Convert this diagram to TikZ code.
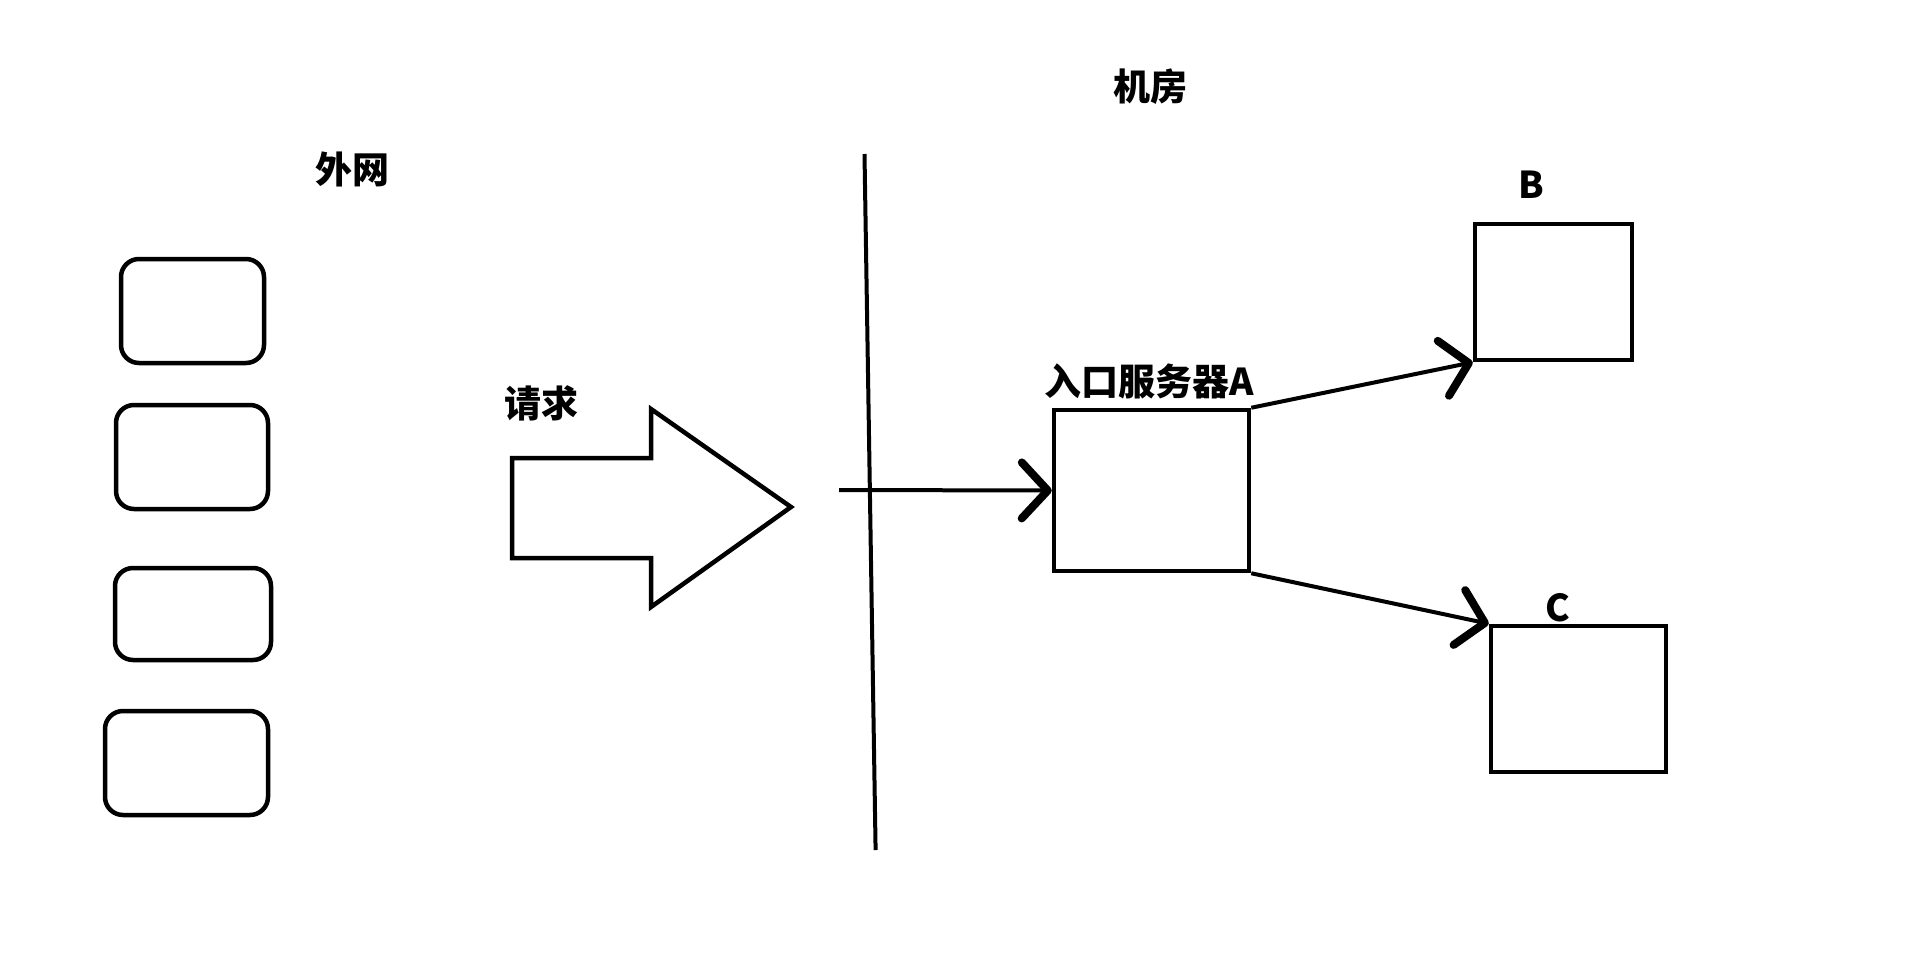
\documentclass[tikz,border=0pt]{standalone}
\usepackage{fontspec}
\newfontfamily\cjk{Noto Sans CJK SC}
\usetikzlibrary{arrows.meta, positioning}

\begin{document}
\begin{tikzpicture}[
    x=1pt, y=-1pt,
    % Styles
    client node/.style={rectangle, draw, line width=4.5pt, rounded corners=18pt, inner sep=0pt},
    server node/.style={rectangle, draw, line width=4.5pt, inner sep=0pt},
    label text/.style={font=\cjk\bfseries\fontsize{37}{40}\selectfont, inner sep=0pt},
    arrow/.style={line width=4pt, -{Straight Barb[length=26pt, width=56pt, line width=8pt, round]}},
    big arrow/.style={draw, line width=4.5pt, line join=miter},
    divider/.style={line width=4pt}
]

\useasboundingbox (0,0) rectangle (1931,956);

% Outside network
\node[label text] (outside) at (352,169) {外网};
\node[client node, minimum width=143pt, minimum height=104pt] (client1) at (192.5,311) {};
\node[client node, minimum width=152pt, minimum height=104pt] (client2) at (192,457) {};
\node[client node, minimum width=156pt, minimum height=92pt] (client3) at (193,614) {};
\node[client node, minimum width=163pt, minimum height=104pt] (client4) at (186.5,763) {};

% Request arrow
\node[label text] (request) at (541,403) {请求};
\draw[big arrow] (512,458) -- (651,458) -- (651,409) -- (791,507) -- (651,607) -- (651,558) -- (512,558) -- cycle;

% Divider
\draw[divider] (864.5,154) -- (875.6,850);

% Server room
\node[label text] (room) at (1150,87) {机房};
\node[server node, minimum width=195pt, minimum height=161pt] (A) at (1151.5,490.5) {};
\node[label text] (A label) at (1149,381) {入口服务器A};
\node[server node, minimum width=157pt, minimum height=136pt] (B) at (1553.5,292) {};
\node[label text] (B label) at (1531,185) {B};
\node[server node, minimum width=175pt, minimum height=146pt] (C) at (1578.5,699) {};
\node[label text] (C label) at (1558,608) {C};

% Connections
\coordinate (entry) at (839,490);
\draw[arrow] (entry) -- (A.west);
\draw[arrow] (A.north east) -- (B.south west);
\draw[arrow] (A.south east) -- (C.north west);

\end{tikzpicture}
\end{document}
